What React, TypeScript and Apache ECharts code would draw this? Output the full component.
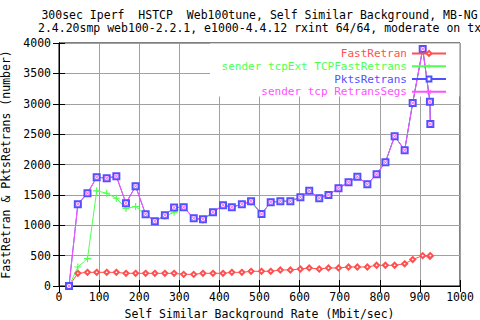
import React, { useEffect, useRef } from "react";
import * as echarts from "echarts";

const titleLine1 = "300sec Iperf  HSTCP  Web100tune, Self Similar Background, MB-NG";
const titleLine2 = "2.4.20smp web100-2.2.1, e1000-4.4.12 rxint 64/64, moderate on tx";
const xAxisName = "Self Similar Background Rate (Mbit/sec)";
const yAxisName = "FastRetran & PktsRetrans (number)";
const seriesNames = ["FastRetran", "sender tcpExt TCPFastRetrans", "PktsRetrans", "sender tcp RetransSegs"];

const rates = [25, 47, 71, 94, 119, 143, 167, 191, 216, 239, 264, 287, 311, 336, 359, 384, 409, 431, 456, 479,
  505, 528, 552, 577, 602, 624, 649, 672, 697, 722, 744, 769, 792, 814, 837, 862, 882, 907, 925, 926];

const fastRetran = [0, 209, 225, 225, 225, 225, 209, 209, 209, 209, 209, 209, 192, 192, 209, 209, 209, 225, 225, 242,
  242, 242, 264, 264, 280, 297, 280, 297, 297, 313, 313, 313, 341, 341, 341, 365, 435, 500, 490, 500];

const tcpExtFastRetrans = [0, 313, 450, 1566, 1527, 1445, 1275, 1308, 1181, 1066, 1143, 1214, 1297, 1115, 1077, 1214, 1330, 1297, 1346, 1380,
  1187, 1379, 1396, 1396, 1462, 1566, 1445, 1500, 1610, 1709, 1797, 1676, 1841, 2038, 2467, 2236, 3011, 3901, 3033, 2665];

const pktsRetrans = [0, 1346, 1527, 1791, 1775, 1808, 1363, 1643, 1181, 1066, 1165, 1291, 1297, 1115, 1099, 1214, 1330, 1297, 1346, 1396,
  1187, 1379, 1396, 1396, 1462, 1566, 1445, 1500, 1610, 1709, 1797, 1676, 1841, 2038, 2467, 2236, 3011, 3901, 3033, 2665];

const retransSegs = [0, 1346, 1527, 1791, 1775, 1808, 1363, 1643, 1181, 1066, 1165, 1291, 1297, 1115, 1099, 1214, 1330, 1297, 1346, 1396,
  1187, 1379, 1396, 1396, 1462, 1566, 1445, 1500, 1610, 1709, 1797, 1676, 1841, 2038, 2467, 2236, 3011, 3901, 3033, 2665];

const colors = ["#ff5050", "#50ff50", "#5050ff", "#ff50ff"];
const MONO = "DejaVu Sans Mono";
const FS = 11.5;
const LFS = 11;

const plusPath = "path://M4.2,0H5.8V4.2H10V5.8H5.8V10H4.2V5.8H0V4.2H4.2Z";
const crossPath = "path://M0,1L1,0L5,4L9,0L10,1L6,5L10,9L9,10L5,6L1,10L0,9L4,5Z";

function pairs(ys: number[]) {
  return rates.map((x, i) => [x, ys[i]]);
}

export default function App() {
  const ref = useRef<HTMLDivElement>(null);
  useEffect(() => {
    if (!ref.current) return;
    const chart = echarts.init(ref.current, undefined, { renderer: "svg" });
    const baseSeries = (name: string, data: number[], color: string, symbol: string, symbolSize: number, bw: number) => ({
      name,
      type: "line",
      data: pairs(data),
      symbol,
      symbolSize,
      showSymbol: true,
      lineStyle: { color, width: 1 },
      itemStyle: { color, borderColor: color, borderWidth: bw },
      emphasis: { disabled: true },
      xAxisIndex: 0,
      yAxisIndex: 0,
    });
    const plain = (v: number) => String(v);
    chart.setOption({
      animation: false,
      backgroundColor: "#ffffff",
      textStyle: { fontFamily: MONO },
      grid: {
        left: 59,
        right: 20,
        top: 43,
        bottom: 34,
        show: true,
        borderColor: "#000000",
        borderWidth: 1,
        backgroundColor: "transparent",
        outerBoundsMode: "none",
        containLabel: false,
      },
      graphic: [
        {
          type: "text",
          x: 259.5,
          y: 14.5,
          style: { text: titleLine1, align: "center", verticalAlign: "middle", font: `${FS}px "${MONO}"`, fill: "#000" },
        },
        {
          type: "text",
          x: 259.5,
          y: 28,
          style: { text: titleLine2, align: "center", verticalAlign: "middle", font: `${FS}px "${MONO}"`, fill: "#000" },
        },
        {
          type: "rect",
          z: 1,
          shape: { x: 210, y: 43.5, width: 249.5, height: 53 },
          style: { fill: "#ffffff" },
          silent: true,
        },
      ],
      legend: {
        orient: "vertical",
        align: "right",
        right: 33,
        top: 47,
        itemWidth: 34,
        itemHeight: 6,
        itemGap: 0,
        padding: 0,
        selectedMode: false,
        data: seriesNames.map((n, i) => ({ name: n, textStyle: { color: colors[i] } })),
        textStyle: { fontFamily: MONO, fontSize: LFS, lineHeight: 12.8 },
      },
      xAxis: [
        {
          type: "value",
          min: 0,
          max: 1000,
          interval: 100,
          name: xAxisName,
          nameLocation: "middle",
          nameGap: 21,
          nameTextStyle: { fontFamily: MONO, fontSize: FS, color: "#000" },
          axisLine: { show: true, lineStyle: { color: "#000", width: 1 } },
          axisTick: { show: true, inside: true, length: 6, lineStyle: { color: "#000" } },
          axisLabel: { fontFamily: MONO, fontSize: FS, color: "#000", margin: 5, formatter: plain },
          splitLine: { show: true, lineStyle: { color: "#a0a0a0", width: 1 } },
        },
        {
          type: "value",
          position: "top",
          min: 0,
          max: 1000,
          interval: 100,
          z: 3,
          axisLine: { show: true, lineStyle: { color: "#000", width: 1 } },
          axisTick: { show: true, inside: true, length: 6, lineStyle: { color: "#000" } },
          axisLabel: { show: false },
          splitLine: { show: false },
        },
      ],
      yAxis: [
        {
          type: "value",
          min: 0,
          max: 4000,
          interval: 500,
          name: yAxisName,
          nameLocation: "middle",
          nameGap: 41,
          nameRotate: 90,
          nameTextStyle: { fontFamily: MONO, fontSize: FS, color: "#000" },
          axisLine: { show: true, lineStyle: { color: "#000", width: 1 } },
          axisTick: { show: true, inside: true, length: 6, lineStyle: { color: "#000" } },
          axisLabel: { fontFamily: MONO, fontSize: FS, color: "#000", margin: 8, formatter: plain },
          splitLine: { show: true, lineStyle: { color: "#a0a0a0", width: 1 } },
        },
        {
          type: "value",
          position: "right",
          min: 0,
          max: 4000,
          interval: 500,
          z: 3,
          axisLine: { show: true, lineStyle: { color: "#000", width: 1 } },
          axisTick: { show: true, inside: true, length: 6, lineStyle: { color: "#000" } },
          axisLabel: { show: false },
          splitLine: { show: false },
        },
      ],
      series: [
        baseSeries(seriesNames[0], fastRetran, colors[0], "emptyDiamond", 5, 1),
        baseSeries(seriesNames[1], tcpExtFastRetrans, colors[1], plusPath, 7, 0),
        baseSeries(seriesNames[2], pktsRetrans, colors[2], "emptyRect", 6, 1),
        baseSeries(seriesNames[3], retransSegs, colors[3], crossPath, 5, 0),
      ],
    });
    return () => chart.dispose();
  }, []);
  return <div ref={ref} style={{ width: 480, height: 320, position: "absolute", left: 0, top: 0 }} />;
}
